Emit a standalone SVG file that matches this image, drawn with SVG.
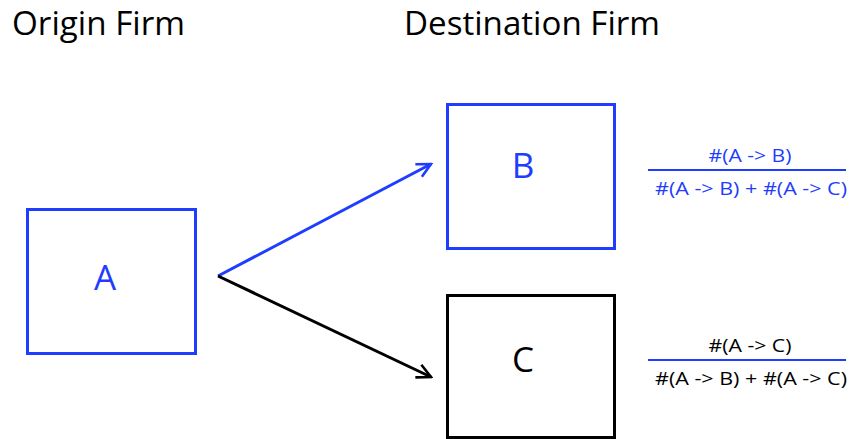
<svg xmlns="http://www.w3.org/2000/svg" width="854" height="439" viewBox="0 0 854 439">
<style>
text{font-family:"Open Sans","Liberation Sans",sans-serif}
.title{font-size:33px;fill:#000}
.lbl{font-size:35px;text-anchor:middle}
.frac{font-size:19px;text-anchor:middle}
.blue{fill:#1f3dff}
.black{fill:#000}
.box{fill:#fff;stroke-width:3}
</style>
<defs>
<marker id="ab" viewBox="0 0 20 20" refX="18" refY="10" markerWidth="20" markerHeight="20" markerUnits="userSpaceOnUse" orient="auto"><polyline points="4,3 18,10 4,17" fill="none" stroke="#1f3dff" stroke-width="2.6"/></marker>
<marker id="ak" viewBox="0 0 20 20" refX="18" refY="10" markerWidth="20" markerHeight="20" markerUnits="userSpaceOnUse" orient="auto"><polyline points="4,3 18,10 4,17" fill="none" stroke="#000" stroke-width="2.6"/></marker>
</defs>
<rect width="854" height="439" fill="#fff"/>
<text class="title" x="12" y="35" textLength="173" lengthAdjust="spacingAndGlyphs">Origin Firm</text>
<text class="title" x="404" y="35" textLength="256" lengthAdjust="spacingAndGlyphs">Destination Firm</text>
<g id="A"><rect class="box" x="27.5" y="209.5" width="168" height="144" stroke="#1f3dff"/><text class="lbl blue" x="105" y="290">A</text></g>
<g id="B"><rect class="box" x="447.5" y="104.5" width="167" height="144" stroke="#1f3dff"/><text class="lbl blue" x="523" y="178">B</text></g>
<g id="C"><rect class="box" x="447.5" y="295.5" width="167" height="142" stroke="#000"/><text class="lbl black" x="523" y="372">C</text></g>
<g id="connectors" fill="none" stroke-width="3">
<line x1="218" y1="276" x2="431" y2="164" stroke="#1f3dff" marker-end="url(#ab)"/>
<line x1="218" y1="276" x2="431" y2="377" stroke="#000" marker-end="url(#ak)"/>
</g>
<g id="fracB">
<text class="frac blue" x="750" y="162" textLength="83" lengthAdjust="spacingAndGlyphs">#(A -&gt; B)</text>
<line x1="648" y1="170" x2="846" y2="170" stroke="#1f3dff" stroke-width="2"/>
<text class="frac blue" x="751" y="195" textLength="192" lengthAdjust="spacingAndGlyphs">#(A -&gt; B) + #(A -&gt; C)</text>
</g>
<g id="fracC">
<text class="frac black" x="750" y="352" textLength="83" lengthAdjust="spacingAndGlyphs">#(A -&gt; C)</text>
<line x1="648" y1="360" x2="846" y2="360" stroke="#1f3dff" stroke-width="2"/>
<text class="frac black" x="751" y="385" textLength="192" lengthAdjust="spacingAndGlyphs">#(A -&gt; B) + #(A -&gt; C)</text>
</g>
</svg>
